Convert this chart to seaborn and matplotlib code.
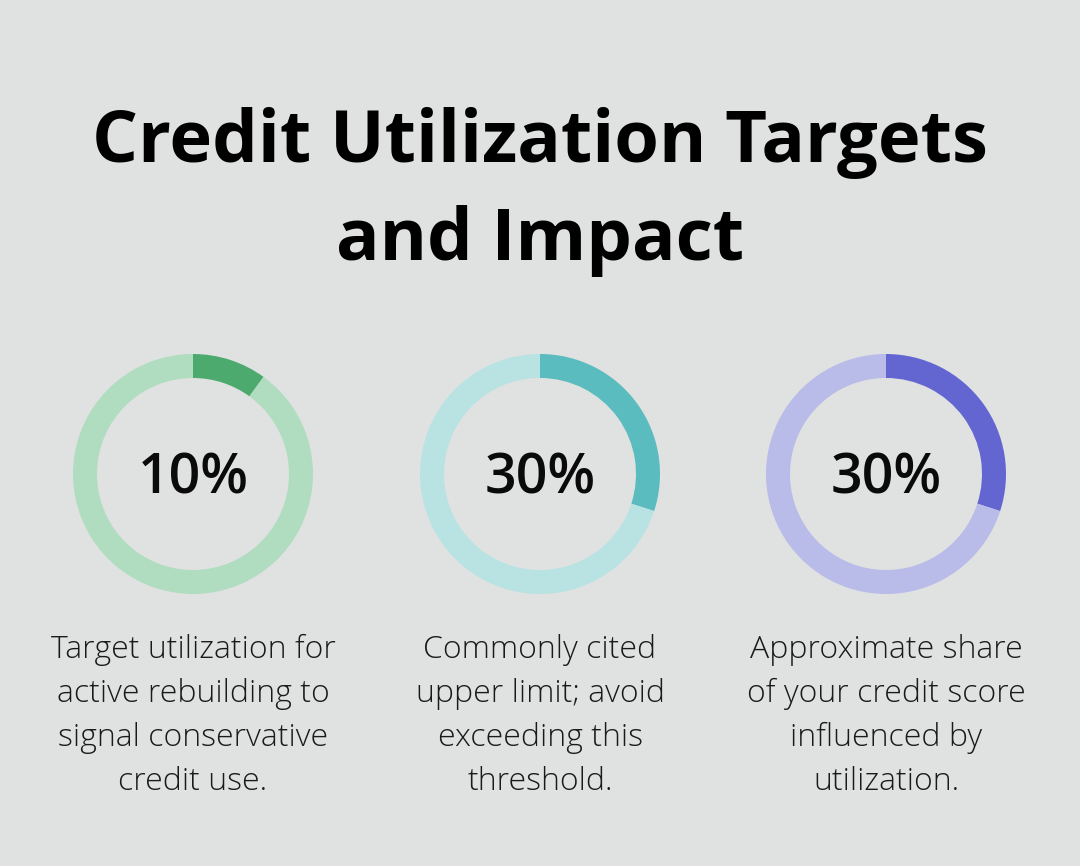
import matplotlib.pyplot as plt
import seaborn as sns

# datos
valores = [10, 30, 30]
etiquetas = ['10%', '30%', '30%']
descripciones = [
    'Target utilization for\nactive rebuilding to\nsignal conservative\ncredit use.',
    'Commonly cited\nupper limit; avoid\nexceeding this\nthreshold.',
    'Approximate share\nof your credit score\ninfluenced by\nutilization.',
]
titulo = 'Credit Utilization Targets\nand Impact'

colores_fuertes = ['#4CAA6E', '#5ABCBE', '#6366D1']
colores_suaves = ['#B0DCC0', '#B9E2E3', '#B9BBE9']

fondo = '#E0E2E1'
sns.set_theme(style='white', rc={'figure.facecolor': fondo, 'axes.facecolor': fondo})
plt.rcParams['font.family'] = ['Open Sans', 'DejaVu Sans']

W, H = 1080, 866
fig = plt.figure(figsize=(W / 100, H / 100), dpi=100)

fig.text(0.5, 1 - 192 / H, titulo, ha='center', va='center', fontsize=52,
         fontweight='bold', color='#000000', linespacing=1.46)

centros_x = [193, 540, 886]
cy = 474
r = 120
for i, v in enumerate(valores):
    cx = centros_x[i]
    ax = fig.add_axes([(cx - r) / W, (H - cy - r) / H, 2 * r / W, 2 * r / H])
    ax.pie([v, 100 - v], colors=[colores_fuertes[i], colores_suaves[i]],
           startangle=90, counterclock=False, radius=1,
           wedgeprops=dict(width=0.2, linewidth=0))
    ax.set_xlim(-1, 1)
    ax.set_ylim(-1, 1)
    ax.set_aspect('equal')
    ax.axis('off')
    ax.text(0, -0.05, etiquetas[i], ha='center', va='center', fontsize=40,
            fontweight='semibold', color='#0a0a0a')
    fig.text(cx / W, 1 - 716 / H, descripciones[i], ha='center', va='center',
             fontsize=23, fontweight='light', color='#1a1a1a', linespacing=1.5)

plt.savefig('out.png', dpi=100, facecolor=fondo)
plt.close()
